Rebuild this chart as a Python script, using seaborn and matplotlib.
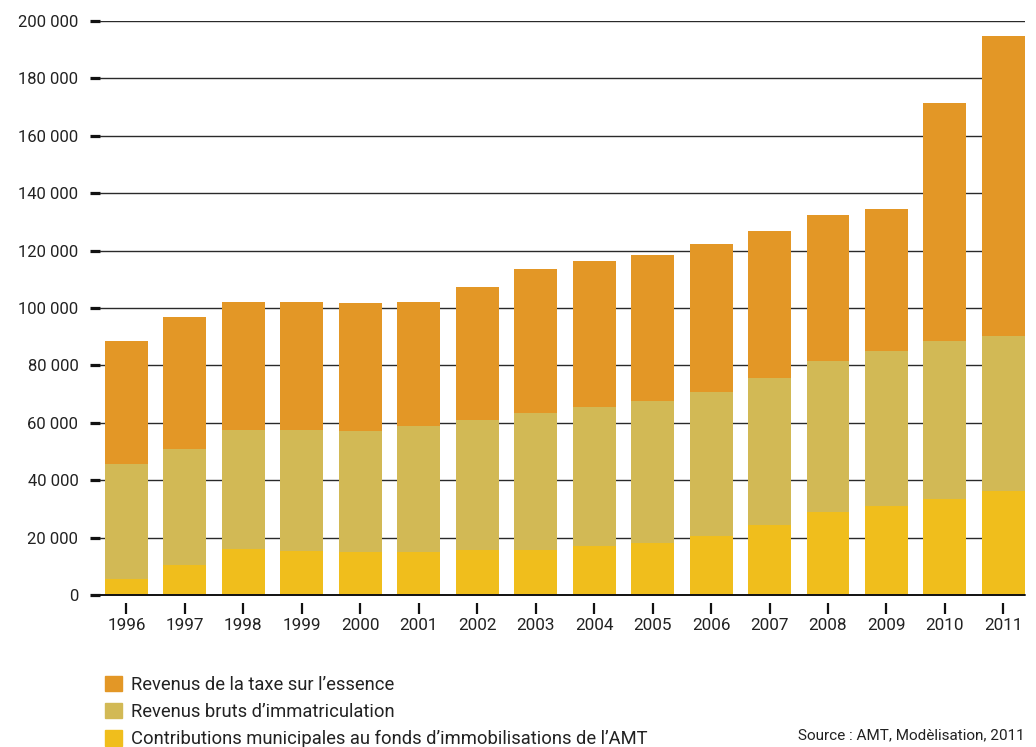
import matplotlib
matplotlib.use("Agg")
import matplotlib.pyplot as plt
import matplotlib.patches as mpatches
import seaborn as sns
import numpy as np
import pandas as pd

years = ["1996", "1997", "1998", "1999", "2000", "2001", "2002", "2003",
         "2004", "2005", "2006", "2007", "2008", "2009", "2010", "2011"]
contributions = [5600, 10500, 16000, 15300, 15000, 15000, 15700, 15700,
                 17100, 18100, 20600, 24400, 28900, 31000, 33400, 36200]
immatriculation = [40000, 40400, 41500, 42200, 42100, 43900, 45300, 47700,
                   48400, 49500, 50100, 51200, 52600, 54000, 55100, 54000]
essence = [42900, 46000, 44600, 44600, 44600, 43200, 46300, 50200,
           50900, 50900, 51600, 51200, 50900, 49500, 82900, 104600]
series_names = ["Revenus de la taxe sur l’essence",
                "Revenus bruts d’immatriculation",
                "Contributions municipales au fonds d’immobilisations de l’AMT"]
colors = ["#E39726", "#D2B955", "#F0BE1C"]
yticks = [0, 20000, 40000, 60000, 80000, 100000, 120000, 140000, 160000, 180000, 200000]

sns.set_style("white")
plt.rcParams["font.family"] = ["Roboto", "DejaVu Sans"]

df = pd.DataFrame({"year": years,
                   "c": contributions,
                   "i": immatriculation,
                   "e": essence})
df["lvl1"] = df["c"]
df["lvl2"] = df["c"] + df["i"]
df["lvl3"] = df["lvl2"] + df["e"]

W, H = 1036, 747
fig = plt.figure(figsize=(W / 100, H / 100), dpi=100)
ax = fig.add_axes([100 / W, (H - 595) / H, 925 / W, 574 / H])

for col, color in zip(["lvl3", "lvl2", "lvl1"], colors):
    sns.barplot(data=df, x="year", y=col, color=color, width=0.735,
                saturation=1, linewidth=0, edgecolor="none", ax=ax, zorder=3)

ax.set_ylim(0, 200000)
ax.set_xlim(-0.453, 15.37)
ax.set_yticks(yticks)
ax.set_yticklabels([f"{v:,}".replace(",", " ") for v in yticks])
ax.set_xlabel("")
ax.set_ylabel("")

for v in yticks[1:]:
    ax.axhline(v, color="#2a2a2a", lw=1.0, zorder=1)
ax.axhline(0, color="#111111", lw=1.4, zorder=4, clip_on=False)

for s in ["top", "right", "left"]:
    ax.spines[s].set_visible(False)
ax.spines["bottom"].set_position(("outward", 5.5))
ax.spines["bottom"].set_visible(False)

ax.tick_params(axis="y", left=True, length=7.5, width=2.3, color="#111111",
               pad=8, labelsize=12, labelcolor="#222222")
ax.tick_params(axis="x", bottom=True, length=8, width=1.6, color="#111111",
               pad=3, labelsize=12.3, labelcolor="#222222")

handles = [mpatches.Patch(color=c, label=n) for c, n in zip(colors, series_names)]
leg = fig.legend(handles=handles, loc="upper left",
                 bbox_to_anchor=(105 / W, 1 - 676 / H), frameon=False,
                 fontsize=13.2, handlelength=0.9, handleheight=0.9,
                 handletextpad=0.5, labelspacing=0.5, borderaxespad=0,
                 borderpad=0, labelcolor="#222222")

fig.text(1025 / W, 1 - 735 / H, "Source : AMT, Modèlisation, 2011",
         ha="right", va="center", fontsize=11, color="#222222")

fig.savefig("out.png", dpi=100)
